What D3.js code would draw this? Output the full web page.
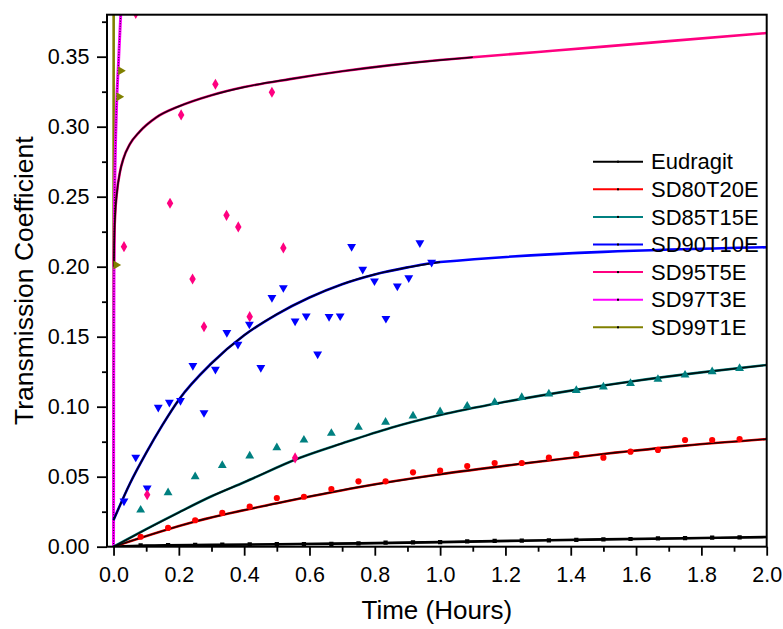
<!DOCTYPE html>
<html>
<head>
<meta charset="utf-8">
<script src="https://cdn.jsdelivr.net/npm/d3@7"></script>
<style>
  body { margin: 0; background: #fff; }
  svg text { font-family: "Liberation Sans", Arial, Helvetica, sans-serif; fill: #000; }
</style>
</head>
<body>
<svg id="chart" width="783" height="629"></svg>
<script>
// ---- data ----------------------------------------------------------------
const seriesNames = ["Eudragit", "SD80T20E", "SD85T15E", "SD90T10E", "SD95T5E", "SD97T3E", "SD99T1E"];

// sampling times (hours) for the slow formulations
const timesSlow = [0.083, 0.167, 0.25, 0.333, 0.417, 0.5, 0.583, 0.667, 0.75, 0.833, 0.917, 1.0,
                   1.083, 1.167, 1.25, 1.333, 1.417, 1.5, 1.583, 1.667, 1.75, 1.833, 1.917];

const eudragitValues = [0.0010, 0.0012, 0.0013, 0.0014, 0.0016, 0.0018, 0.0019, 0.0021, 0.0024, 0.0029, 0.0031, 0.0033,
                        0.0038, 0.0041, 0.0043, 0.0045, 0.0049, 0.0053, 0.0055, 0.0060, 0.0062, 0.0064, 0.0067];
const sd80Values = [0.0071, 0.0134, 0.0189, 0.0241, 0.0286, 0.0348, 0.0357, 0.0412, 0.0467, 0.0467, 0.0531, 0.0543,
                    0.0576, 0.0598, 0.0598, 0.0636, 0.0662, 0.0636, 0.0679, 0.0691, 0.0762, 0.0762, 0.0769];
const sd85Values = [0.0262, 0.0386, 0.0500, 0.0581, 0.0648, 0.0707, 0.0762, 0.0810, 0.0853, 0.0889, 0.0934, 0.0964,
                    0.1005, 0.1031, 0.1067, 0.1091, 0.1116, 0.1141, 0.1167, 0.1196, 0.1226, 0.1250, 0.1274];

// faster formulations were sampled more often
const sd90Times  = [0.032, 0.068, 0.103, 0.137, 0.171, 0.205, 0.243, 0.277, 0.312, 0.347, 0.381, 0.416, 0.451, 0.485,
                    0.520, 0.556, 0.590, 0.625, 0.660, 0.694, 0.729, 0.763, 0.799, 0.834, 0.869, 0.904, 0.938, 0.974];
const sd90Values = [0.0326, 0.0639, 0.0419, 0.0996, 0.1031, 0.1043, 0.1293, 0.0957, 0.1267, 0.1529, 0.1446, 0.1589, 0.1279, 0.1779,
                    0.1850, 0.1612, 0.1648, 0.1376, 0.1643, 0.1648, 0.2143, 0.1981, 0.1898, 0.1630, 0.1862, 0.1921, 0.2171, 0.2031];

const sd95Times  = [0.032, 0.068, 0.103, 0.173, 0.207, 0.242, 0.277, 0.312, 0.346, 0.382, 0.417, 0.485, 0.520, 0.556];
const sd95Values = [0.2143, 0.3810, 0.0371, 0.2453, 0.3084, 0.1912, 0.1571, 0.3303, 0.2367, 0.2284, 0.1643, 0.3246, 0.2134, 0.0634];

const sd97Times  = [];
const sd97Values = [];

const sd99Times  = [0.0077, 0.017, 0.022];
const sd99Values = [0.2012, 0.3214, 0.3400];

// fitted release curves, [time, coefficient]
const fitEudragit = [[0, 0], [0.1, 0.0008], [0.3, 0.0013], [0.5, 0.0017], [0.75, 0.0024], [1.0, 0.0033],
                     [1.25, 0.0043], [1.5, 0.0052], [1.75, 0.0060], [2.0, 0.0069]];
const fitSD80 = [[0, 0], [0.25, 0.018], [0.5, 0.031], [0.75, 0.0425], [1.0, 0.0517], [1.25, 0.0593],
                 [1.5, 0.0662], [1.75, 0.0722], [2.0, 0.0769]];
const fitSD85 = [[0, 0], [0.1, 0.0125], [0.2, 0.0245], [0.3, 0.036], [0.4, 0.046], [0.571, 0.0635], [0.7, 0.0738],
                 [0.85, 0.085], [1.0, 0.0941], [1.2, 0.1035], [1.42, 0.1122], [1.6, 0.1185], [1.8, 0.1245], [2.0, 0.1298]];
const fitSD90 = [[0, 0.019], [0.05, 0.045], [0.1, 0.067], [0.15, 0.087], [0.2, 0.105], [0.3, 0.131], [0.4, 0.151],
                 [0.5, 0.166], [0.6, 0.178], [0.7, 0.1875], [0.8, 0.1945], [0.9, 0.1995], [1.0, 0.2033]];
const extSD90 = [[1.0, 0.2033], [2.0, 0.2139]];
const fitSD95 = [[0.001, 0.20], [0.002, 0.216], [0.005, 0.237], [0.01, 0.252], [0.02, 0.268], [0.03, 0.277],
                 [0.05, 0.2875], [0.08, 0.2965], [0.13, 0.3065], [0.2, 0.3145], [0.3, 0.3225], [0.4, 0.3283],
                 [0.54, 0.334], [0.7, 0.3396], [0.85, 0.344], [1.0, 0.3476], [1.1, 0.3496]];
const extSD95 = [[1.1, 0.3496], [1.3, 0.3534], [1.5, 0.3572], [1.7, 0.3611], [2.0, 0.3669]];
const fitSD97 = [[0, 0], [0.0005, 0.12], [0.0015, 0.2], [0.003, 0.245], [0.0046, 0.2714], [0.0067, 0.295],
                 [0.0098, 0.3186], [0.015, 0.345], [0.022, 0.38], [0.03, 0.42]];
const fitSD99 = [[0, 0], [0.0002, 0.2], [0.0004, 0.40]];

// axis ticks
const xMajorTicks = [0, 0.2, 0.4, 0.6, 0.8, 1.0, 1.2, 1.4, 1.6, 1.8, 2.0];
const xMinorTicks = [0.1, 0.3, 0.5, 0.7, 0.9, 1.1, 1.3, 1.5, 1.7, 1.9];
const yMajorTicks = [0, 0.05, 0.10, 0.15, 0.20, 0.25, 0.30, 0.35];
const yMinorTicks = [0.025, 0.075, 0.125, 0.175, 0.225, 0.275, 0.325, 0.375];

// ---- styling ---------------------------------------------------------------
const colors = {
  "Eudragit": "#000000", "SD80T20E": "#ff0000", "SD85T15E": "#008080", "SD90T10E": "#0000ff",
  "SD95T5E": "#ff0080", "SD97T3E": "#ff00ff", "SD99T1E": "#808000"
};
const symbols = {
  "Eudragit": { type: d3.symbolSquare, size: 18, rot: 0 },
  "SD80T20E": { type: d3.symbolCircle, size: 30, rot: 0 },
  "SD85T15E": { type: d3.symbolTriangle, size: 34, rot: 0 },
  "SD90T10E": { type: d3.symbolTriangle, size: 34, rot: 180 },
  "SD95T5E":  { type: d3.symbolDiamond, size: 36, rot: 0 },
  "SD97T3E":  { type: d3.symbolCircle, size: 30, rot: 0 },
  "SD99T1E":  { type: d3.symbolTriangle, size: 34, rot: 90 }
};

const zip = (xs, ys) => xs.map((t, i) => [t, ys[i]]);
const series = [
  { name: "Eudragit", points: zip(timesSlow, eudragitValues), fit: fitEudragit, ext: null },
  { name: "SD80T20E", points: zip(timesSlow, sd80Values), fit: fitSD80, ext: null },
  { name: "SD85T15E", points: zip(timesSlow, sd85Values), fit: fitSD85, ext: null },
  { name: "SD90T10E", points: zip(sd90Times, sd90Values), fit: fitSD90, ext: extSD90 },
  { name: "SD95T5E",  points: zip(sd95Times, sd95Values), fit: fitSD95, ext: extSD95 },
  { name: "SD97T3E",  points: zip(sd97Times, sd97Values), fit: fitSD97, ext: null },
  { name: "SD99T1E",  points: zip(sd99Times, sd99Values), fit: fitSD99, ext: null }
];

// ---- layout ----------------------------------------------------------------
const svg = d3.select("#chart");
const plotL = 107, plotR = 766.7, plotT = 14.7, plotB = 546.7;

const x = d3.scaleLinear().domain([-0.02, 2.0]).range([plotL, plotR]);
const y = d3.scaleLinear().domain([0, 0.38]).range([plotB, plotT]);

svg.append("defs").append("clipPath").attr("id", "plotClip")
  .append("rect").attr("x", plotL).attr("y", plotT).attr("width", plotR - plotL).attr("height", plotB - plotT);

const plot = svg.append("g").attr("clip-path", "url(#plotClip)");
const line = d3.line().x(d => x(d[0])).y(d => y(d[1])).curve(d3.curveMonotoneX);

// coloured curves (fit + extension), SD99T1E first so SD97T3E sits over it
const drawOrder = ["SD99T1E", "SD97T3E", "Eudragit", "SD80T20E", "SD85T15E", "SD90T10E", "SD95T5E"];
drawOrder.forEach(name => {
  const s = series.find(d => d.name === name);
  const full = s.ext ? s.fit.concat(s.ext.slice(1)) : s.fit;
  plot.append("path").attr("d", line(full)).attr("fill", "none")
    .attr("stroke", colors[name]).attr("stroke-width", name === "SD97T3E" ? 3 : 2.6)
    .attr("stroke-linejoin", "round");
});

// dark fitted overlays over the measured range
drawOrder.forEach(name => {
  const s = series.find(d => d.name === name);
  if (name === "SD99T1E") return;
  const p = plot.append("path").attr("d", line(s.fit)).attr("fill", "none").attr("stroke", "#000");
  if (name === "SD97T3E") {
    p.attr("stroke-width", 1.2).attr("stroke-dasharray", "1,1.6").attr("stroke-opacity", 0.8);
  } else {
    p.attr("stroke-width", 1.7).attr("stroke-opacity", 0.88);
  }
});

// measured points
series.forEach(s => {
  const sym = symbols[s.name];
  const gen = d3.symbol().type(sym.type).size(sym.size);
  plot.append("g").selectAll("path").data(s.points).join("path")
    .attr("d", gen)
    .attr("transform", d => `translate(${x(d[0])},${y(d[1])}) rotate(${sym.rot})`)
    .attr("fill", colors[s.name]);
});

// ---- axes ------------------------------------------------------------------
svg.append("g").attr("transform", `translate(0,${plotB})`)
  .call(d3.axisBottom(x).tickValues(xMajorTicks).tickFormat(d3.format(".1f")).tickSize(9).tickPadding(11).tickSizeOuter(0));
svg.append("g").attr("transform", `translate(0,${plotB})`)
  .call(d3.axisBottom(x).tickValues(xMinorTicks).tickFormat("").tickSize(5).tickSizeOuter(0));

svg.append("g").attr("transform", `translate(${plotL},0)`)
  .call(d3.axisLeft(y).tickValues(yMajorTicks).tickFormat(d3.format(".2f")).tickSize(10).tickPadding(7.5).tickSizeOuter(0));
svg.append("g").attr("transform", `translate(${plotL},0)`)
  .call(d3.axisLeft(y).tickValues(yMinorTicks).tickFormat("").tickSize(5).tickSizeOuter(0));

svg.selectAll(".tick line").attr("stroke", "#000").attr("stroke-width", 1.8);
svg.selectAll(".domain").remove();
svg.selectAll(".tick text").attr("font-size", "21.5px")
  .attr("font-family", '"Liberation Sans", Arial, sans-serif').attr("fill", "#000");

// frame
svg.append("rect").attr("x", plotL).attr("y", plotT).attr("width", plotR - plotL).attr("height", plotB - plotT)
  .attr("fill", "none").attr("stroke", "#000").attr("stroke-width", 2);

// axis titles
svg.append("text").attr("x", (plotL + plotR) / 2).attr("y", 619).attr("text-anchor", "middle")
  .attr("font-size", "26px").text("Time (Hours)");
svg.append("text").attr("transform", `translate(33,${(plotT + plotB) / 2}) rotate(-90)`)
  .attr("text-anchor", "middle").attr("font-size", "26.5px").text("Transmission Coefficient");

// ---- legend ----------------------------------------------------------------
const legend = svg.append("g");
seriesNames.forEach((name, i) => {
  const ly = 161.7 + i * 27.6;
  legend.append("line").attr("x1", 593).attr("x2", 643).attr("y1", ly).attr("y2", ly)
    .attr("stroke", colors[name]).attr("stroke-width", 2);
  legend.append("rect").attr("x", 617).attr("y", ly - 1).attr("width", 2).attr("height", 2).attr("fill", "#000");
  legend.append("text").attr("x", 651).attr("y", ly).attr("dy", "0.35em")
    .attr("font-size", "22px").text(name);
});
</script>
</body>
</html>
